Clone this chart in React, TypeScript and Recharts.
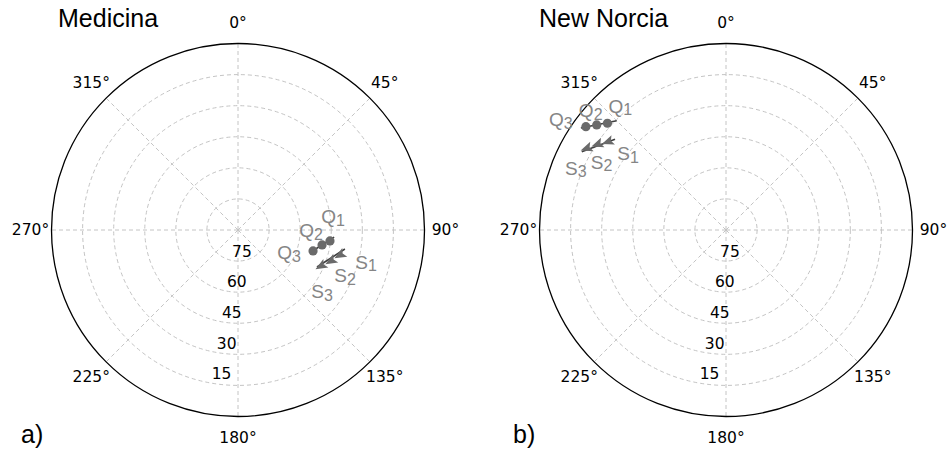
import React from "react";
import {
  RadarChart,
  Radar,
  PolarGrid,
  PolarAngleAxis,
  PolarRadiusAxis,
} from "recharts";

// azimuth (deg, clockwise from north) / elevation (deg)
const medicinaQ = [
  { label: "Q1", az: 96.8, el: 45.3 },
  { label: "Q2", az: 100.1, el: 48.8 },
  { label: "Q3", az: 105.6, el: 52.4 },
];
const medicinaS = [
  { label: "S1", az: 103.8, el: 39.3 },
  { label: "S2", az: 108.4, el: 42.7 },
  { label: "S3", az: 113.4, el: 46.3 },
];
const medicinaQTrack = [
  { az: 94.2, el: 43.5 },
  { az: 106.8, el: 53.2 },
];
const medicinaSTrack = [
  { az: 100.1, el: 37.6 },
  { az: 115.1, el: 47.9 },
];

const norciaQ = [
  { label: "Q1", az: 312.0, el: 13.0 },
  { label: "Q2", az: 309.1, el: 9.6 },
  { label: "Q3", az: 306.4, el: 6.0 },
];
const norciaS = [
  { label: "S1", az: 306.8, el: 18.9 },
  { label: "S2", az: 303.7, el: 15.5 },
  { label: "S3", az: 300.4, el: 12.1 },
];
const norciaQTrack = [
  { az: 315.0, el: 15.4 },
  { az: 305.1, el: 4.4 },
];
const norciaSTrack = [
  { az: 309.3, el: 20.8 },
  { az: 298.5, el: 10.8 },
];

const azimuthTicks = [0, 45, 90, 135, 180, 225, 270, 315];
// radial axis is zenith distance (90 - elevation)
const zenithTicks = [15, 30, 45, 60, 75];

// label offsets (px) from each marker, as placed in the figure
const medicinaLabelOffsets: Record<string, [number, number]> = {
  Q1: [3, -24],
  Q2: [-11, -14],
  Q3: [-24, 2],
  S1: [26, 7],
  S2: [14, 15],
  S3: [1, 26],
};
const norciaLabelOffsets: Record<string, [number, number]> = {
  Q1: [13, -17],
  Q2: [-6, -14],
  Q3: [-25, -7],
  S1: [20, 12],
  S2: [4, 18],
  S3: [-11, 20],
};

type Pt = { label?: string; az: number; el: number };

const toRows = (pts: Pt[]) =>
  pts.map((p) => ({ az: p.az, label: p.label, zd: 90 - p.el }));

const TICK_FONT = "DejaVu Sans, sans-serif";
const LABEL_FONT = "Liberation Sans, Arial, sans-serif";
const MARK = "#6a6a6a";
const TRACK = "#3f3f3f";
const LABEL = "#858585";
const W = 474;
const H = 451;
const CY = 230;
const R = 186.5;

const renderAngleTick = (props: any) => {
  const { x, y, payload } = props;
  return (
    <text
      x={x}
      y={y}
      textAnchor="middle"
      dominantBaseline="central"
      fontSize={15.5}
      fontFamily={TICK_FONT}
      fill="#000"
    >
      {payload.value}°
    </text>
  );
};

const renderRadiusTick = (props: any) => {
  const { x, y, payload } = props;
  return (
    <text
      x={x + 9}
      y={y - 9}
      textAnchor="middle"
      dominantBaseline="central"
      fontSize={15.5}
      fontFamily={TICK_FONT}
      fill="#000"
    >
      {90 - payload.value}
    </text>
  );
};

function MarkerLabel({ x, y, text }: { x: number; y: number; text: string }) {
  return (
    <text
      x={x}
      y={y}
      textAnchor="middle"
      dominantBaseline="central"
      fontSize={19}
      fontFamily={LABEL_FONT}
      fill={LABEL}
    >
      {text[0]}
      <tspan fontSize={16} dy={3}>
        {text.slice(1)}
      </tspan>
    </text>
  );
}

function makeDot(
  kind: "Q" | "S",
  offsets: Record<string, [number, number]>,
  arrowAngle: number
) {
  return (props: any) => {
    const { cx, cy, payload, index } = props;
    const key = `${kind}-${index}`;
    if (!Number.isFinite(cx) || !Number.isFinite(cy)) return <g key={key} />;
    const row = payload?.payload ?? payload;
    const name: string = row?.label ?? "";
    const [dx, dy] = offsets[name] ?? [0, 0];
    return (
      <g key={key}>
        {kind === "Q" ? (
          <circle cx={cx} cy={cy} r={4.6} fill={MARK} />
        ) : (
          <path
            d="M6.5,0 L-5.5,-5 L-3,0 L-5.5,5 Z"
            fill={MARK}
            transform={`translate(${cx},${cy}) rotate(${arrowAngle})`}
          />
        )}
        <MarkerLabel x={cx + dx} y={cy + dy} text={name} />
      </g>
    );
  };
}

// one polar layer sharing the same centre, radius and scales
function Layer({
  data,
  cx,
  withAxes,
  children,
}: {
  data: any[];
  cx: number;
  withAxes?: boolean;
  children: React.ReactNode;
}) {
  return (
    <div style={{ position: "absolute", left: 0, top: 0 }}>
      <RadarChart
        width={W}
        height={H}
        data={data}
        cx={cx}
        cy={CY}
        outerRadius={R}
        innerRadius={0}
        margin={{ top: 0, right: 0, bottom: 0, left: 0 }}
      >
        {withAxes && (
          <PolarGrid
            gridType="circle"
            stroke="#c4c4c4"
            strokeDasharray="4 3"
            strokeWidth={1}
          />
        )}
        <PolarAngleAxis
          dataKey="az"
          type="number"
          domain={[0, 360]}
          ticks={azimuthTicks as any}
          tick={withAxes ? renderAngleTick : false}
          tickLine={false}
          tickSize={21}
          axisLine={withAxes ? { stroke: "#000", strokeWidth: 1.3 } : false}
          axisLineType="circle"
        />
        <PolarRadiusAxis
          type="number"
          domain={[0, 90]}
          ticks={zenithTicks as any}
          angle={-99.4}
          axisLine={false}
          tickLine={false}
          tick={withAxes ? renderRadiusTick : false}
        />
        {children}
      </RadarChart>
    </div>
  );
}

type PanelProps = {
  q: Pt[];
  s: Pt[];
  qTrack: Pt[];
  sTrack: Pt[];
  cx: number;
  left: number;
  offsets: Record<string, [number, number]>;
  arrowAngle: number;
};

function SkyPanel({ q, s, qTrack, sTrack, cx, left, offsets, arrowAngle }: PanelProps) {
  return (
    <div style={{ position: "absolute", left, top: 0, width: W, height: H }}>
      <Layer data={toRows(qTrack)} cx={cx} withAxes>
        <Radar
          dataKey="zd"
          stroke={TRACK}
          strokeWidth={1.6}
          fill="none"
          dot={false}
          isAnimationActive={false}
        />
      </Layer>
      <Layer data={toRows(sTrack)} cx={cx}>
        <Radar
          dataKey="zd"
          stroke={TRACK}
          strokeWidth={1.6}
          fill="none"
          dot={false}
          isAnimationActive={false}
        />
      </Layer>
      <Layer data={toRows(q)} cx={cx}>
        <Radar
          dataKey="zd"
          stroke="none"
          fill="none"
          dot={makeDot("Q", offsets, arrowAngle)}
          isAnimationActive={false}
        />
      </Layer>
      <Layer data={toRows(s)} cx={cx}>
        <Radar
          dataKey="zd"
          stroke="none"
          fill="none"
          dot={makeDot("S", offsets, arrowAngle)}
          isAnimationActive={false}
        />
      </Layer>
    </div>
  );
}

export default function App() {
  return (
    <div
      style={{
        position: "absolute",
        left: 0,
        top: 0,
        width: 948,
        height: 451,
        background: "#fff",
      }}
    >
      <SkyPanel
        q={medicinaQ}
        s={medicinaS}
        qTrack={medicinaQTrack}
        sTrack={medicinaSTrack}
        cx={238}
        left={0}
        offsets={medicinaLabelOffsets}
        arrowAngle={150}
      />
      <SkyPanel
        q={norciaQ}
        s={norciaS}
        qTrack={norciaQTrack}
        sTrack={norciaSTrack}
        cx={252}
        left={474}
        offsets={norciaLabelOffsets}
        arrowAngle={160}
      />
      <svg
        width={948}
        height={451}
        style={{ position: "absolute", left: 0, top: 0, pointerEvents: "none" }}
      >
        <g fontFamily={LABEL_FONT} fontSize={25} fill="#000">
          <text x={58} y={27}>Medicina</text>
          <text x={539} y={27}>New Norcia</text>
          <text x={21} y={443}>a)</text>
          <text x={513} y={443}>b)</text>
        </g>
      </svg>
    </div>
  );
}
